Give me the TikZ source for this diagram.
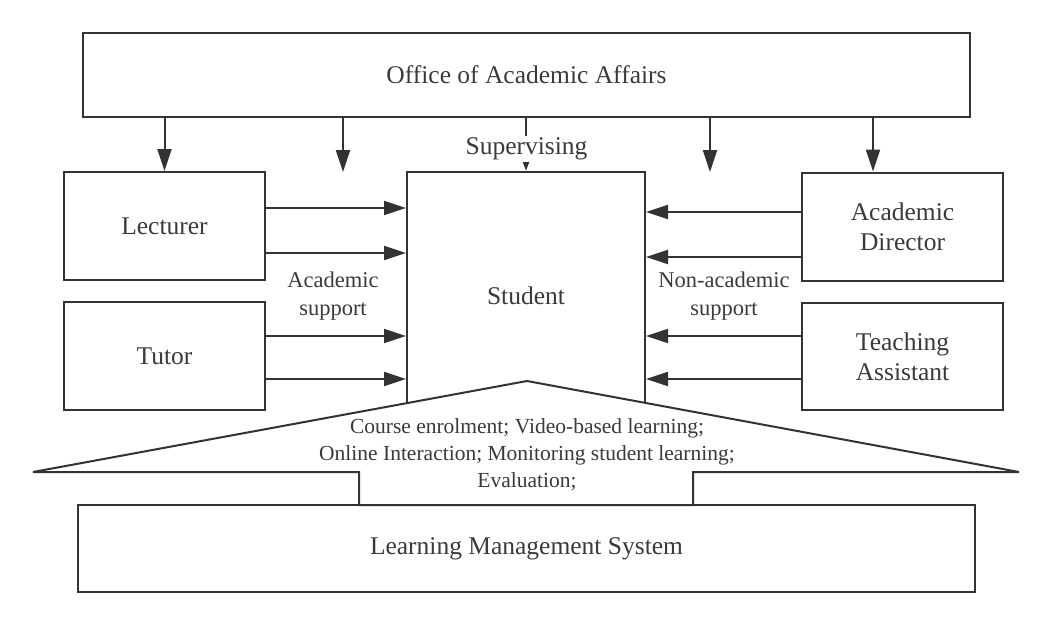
\documentclass[tikz,border=0pt]{standalone}
\usepackage{fontspec}
\setmainfont{Liberation Serif}
\usetikzlibrary{arrows.meta}
\definecolor{ln}{HTML}{333333}
\definecolor{tx}{HTML}{3A3A3A}
\begin{document}
\begin{tikzpicture}[x=1pt,y=-1pt,
  box/.style={draw=ln,line width=2pt,rectangle,inner sep=0pt,text=tx,align=center,
    font=\fontsize{25.5}{30}\selectfont},
  lbl/.style={text=tx,align=center,inner sep=1pt,font=\fontsize{25.5}{30}\selectfont},
  slbl/.style={text=tx,align=center,inner sep=1pt,font=\fontsize{22.5}{28}\selectfont},
  arr/.style={draw=ln,line width=2pt,-{Triangle[length=22pt,width=14pt]}},
  sarr/.style={draw=ln,line width=2pt,-{Triangle[length=9pt,width=6pt]}}]
\useasboundingbox (0,0) rectangle (1053,626);
% boxes
\node[box,minimum width=887pt,minimum height=84pt] (office) at (526.5,75) {Office of Academic Affairs};
\node[box,minimum width=201pt,minimum height=108pt] (lect) at (164.5,226) {Lecturer};
\node[box,minimum width=201pt,minimum height=108pt] (tutor) at (164.5,356) {Tutor};
\node[box,minimum width=201pt,minimum height=108pt] (ad) at (902.5,226.5) {Academic\\Director};
\node[box,minimum width=201pt,minimum height=107pt] (ta) at (902.5,356.5) {Teaching\\Assistant};
\node[box,minimum width=238pt,minimum height=248pt] (stud) at (526,296) {};
\node[lbl] (studtext) at (526,296) {Student};
% coordinates for free ends
\coordinate (f1) at (343,172);
\coordinate (f2) at (710,172);
% top arrows
\draw[arr] (office.south -| lect.north) -- (lect.north);
\draw[arr] (office.south -| f1) -- (f1);
\draw[arr] (office.south -| f2) -- (f2);
\draw[arr] (office.south -| 873,0) -- (ad.north -| 873,0);
\draw[sarr] (office.south -| stud.north) -- (stud.north);
\node[lbl,fill=white,inner sep=2pt] (sup) at (526.5,149) {Supervising};
% left arrows
\draw[arr] (lect.east |- 0,208) -- (stud.west |- 0,208);
\draw[arr] (lect.east |- 0,253) -- (stud.west |- 0,253);
\draw[arr] (tutor.east |- 0,336) -- (stud.west |- 0,336);
\draw[arr] (tutor.east |- 0,379) -- (stud.west |- 0,379);
% right arrows
\draw[arr] (ad.west |- 0,212) -- (stud.east |- 0,212);
\draw[arr] (ad.west |- 0,257) -- (stud.east |- 0,257);
\draw[arr] (ta.west |- 0,336) -- (stud.east |- 0,336);
\draw[arr] (ta.west |- 0,379) -- (stud.east |- 0,379);
\node[slbl] (acad) at (333,296) {Academic\\support};
\node[slbl] (nonacad) at (724,296) {Non-academic\\support};
% LMS box
\node[box,minimum width=897pt,minimum height=87pt] (lms) at (526.5,548.5) {Learning Management System};
% roof shape
\draw[ln,line width=2pt,fill=white,line join=miter]
  (527,381) -- (1019,472) -- (693,472) -- (693,505) -- (359,505) -- (359,472) -- (33,472) -- cycle;
\draw[ln,line width=2pt] (359,505) -- (693,505);
\node[text=tx,align=center,inner sep=0pt,font=\fontsize{21.5}{27}\selectfont] (functions) at (527,455)
  {Course enrolment; Video-based learning;\\Online Interaction; Monitoring student learning;\\Evaluation;};
\end{tikzpicture}
\end{document}
